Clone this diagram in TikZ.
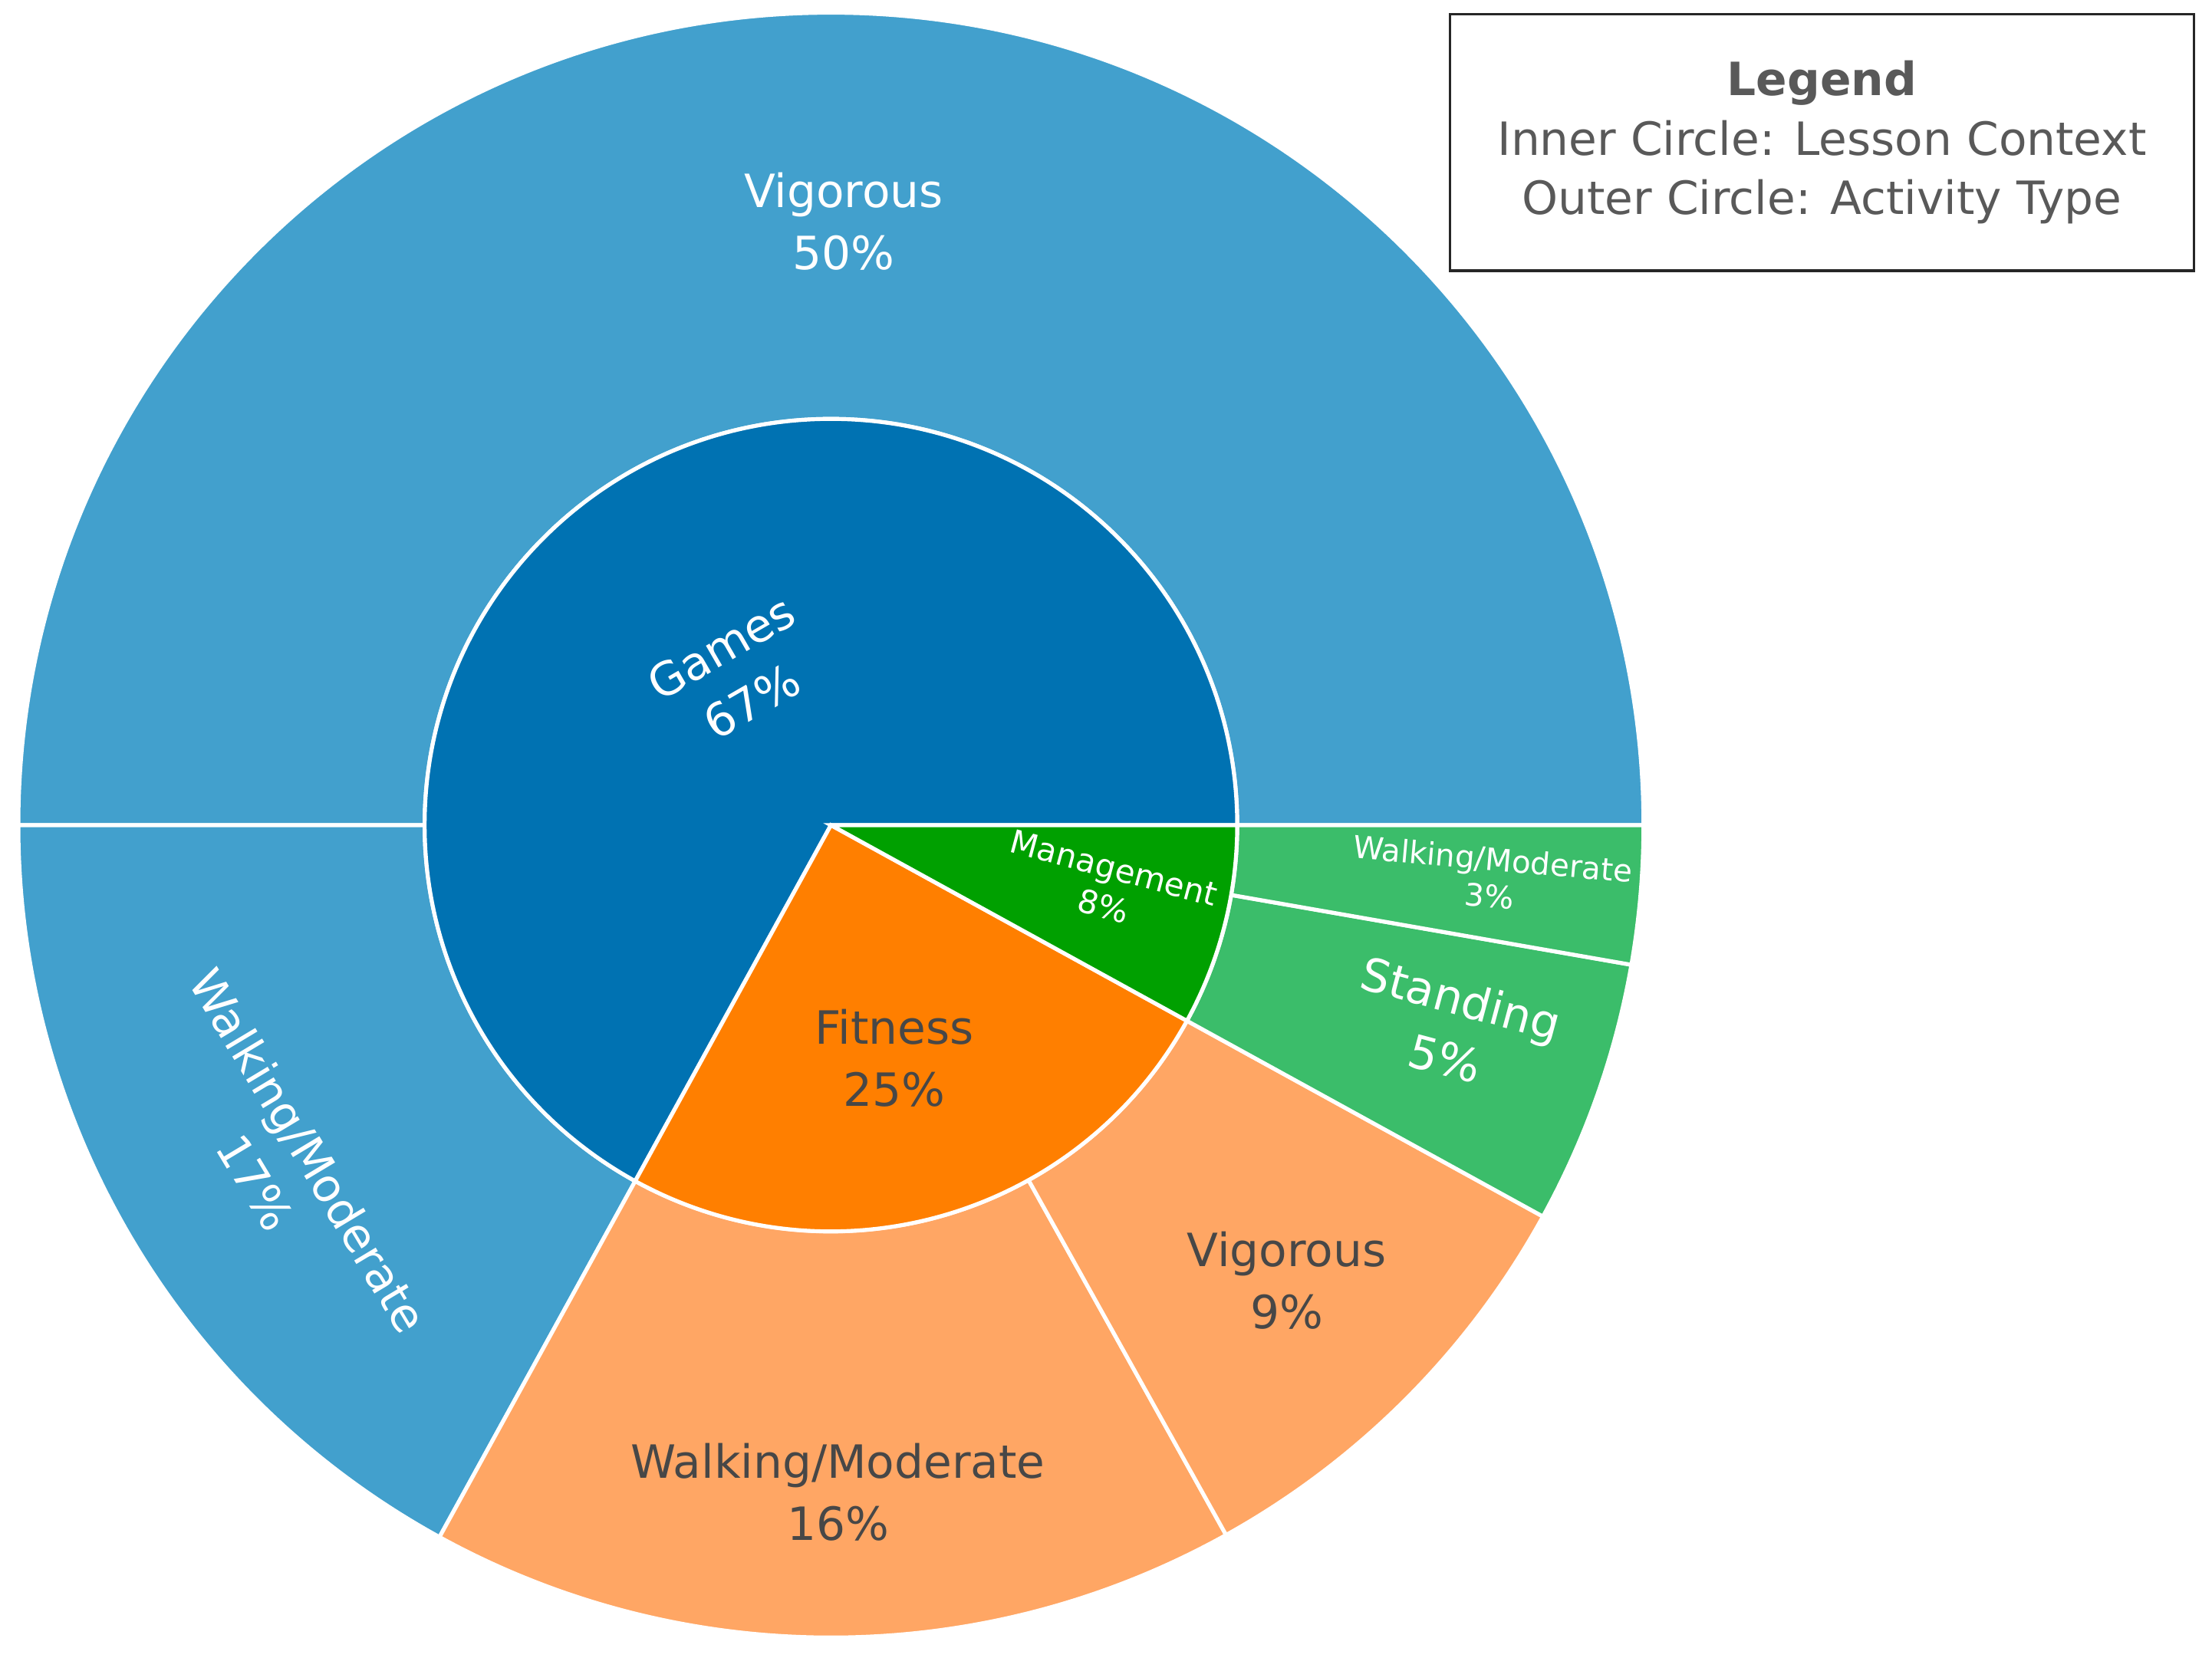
\documentclass[tikz,border=0pt]{standalone}
\usepackage{fontspec}
\setmainfont{DejaVu Sans}
\begin{document}
\begin{tikzpicture}[x=0.02cm,y=0.02cm,
  seg/.style={draw=white,line width=1.6pt},
  lw/.style={text=white,align=center,font=\fontsize{18.5}{25}\selectfont},
  ld/.style={text=black!72,align=center,font=\fontsize{18.5}{25}\selectfont}]
\definecolor{gin}{HTML}{0072B2}\definecolor{gout}{HTML}{42A0CD}
\definecolor{fin}{HTML}{FF7F00}\definecolor{fout}{HTML}{FFA664}
\definecolor{min}{HTML}{00A000}\definecolor{mout}{HTML}{3BBD6A}
\useasboundingbox (0,0) rectangle (1568,1175);
\begin{scope}[shift={(589,590)}]
\def\ri{288}\def\ro{576}
% outer ring
\fill[gout,seg] (0:\ri) arc (0:180:\ri) -- (180:\ro) arc (180:0:\ro) -- cycle;
\fill[gout,seg] (180:\ri) arc (180:241.2:\ri) -- (241.2:\ro) arc (241.2:180:\ro) -- cycle;
\fill[fout,seg] (241.2:\ri) arc (241.2:299.1:\ri) -- (299.1:\ro) arc (299.1:241.2:\ro) -- cycle;
\fill[fout,seg] (299.1:\ri) arc (299.1:331.2:\ri) -- (331.2:\ro) arc (331.2:299.1:\ro) -- cycle;
\fill[mout,seg] (331.2:\ri) arc (331.2:350.1:\ri) -- (350.1:\ro) arc (350.1:331.2:\ro) -- cycle;
\fill[mout,seg] (350.1:\ri) arc (350.1:360:\ri) -- (360:\ro) arc (360:350.1:\ro) -- cycle;
% inner ring
\fill[gin,seg] (0,0) -- (0:\ri) arc (0:241.2:\ri) -- cycle;
\fill[fin,seg] (0,0) -- (241.2:\ri) arc (241.2:331.2:\ri) -- cycle;
\fill[min,seg] (0,0) -- (331.2:\ri) arc (331.2:360:\ri) -- cycle;
\end{scope}
% labels
\node[lw] (gv) at (598,1018) {Vigorous\\50\%};
\node[lw,rotate=30] (gm) at (522,697) {Games\\67\%};
\node[lw,rotate=-59] (gw) at (200,348) {Walking/Moderate\\17\%};
\node[ld] (fi) at (634,425) {Fitness\\25\%};
\node[lw,rotate=-15,font=\fontsize{13}{16}\selectfont] (mg) at (786,546) {Management\\8\%};
\node[lw,rotate=-5,font=\fontsize{12.5}{15}\selectfont] (mw) at (1057,553) {Walking/Moderate\\3\%};
\node[lw,rotate=-15] (ms) at (1030,446) {Standing\\5\%};
\node[ld] (fv) at (912,267) {Vigorous\\9\%};
\node[ld] (fw) at (594,117) {Walking/Moderate\\16\%};
% legend
\draw[black!85,line width=1pt] (1028,983) rectangle (1555,1165);
\coordinate (lgc) at (1291.5,1074);
\node[text=black!65,align=center,font=\fontsize{18.5}{24}\selectfont] (lt) at (lgc) {\textbf{Legend}\\Inner Circle: Lesson Context\\Outer Circle: Activity Type};
\end{tikzpicture}
\end{document}
